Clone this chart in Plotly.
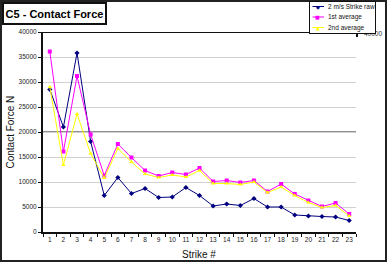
import plotly.graph_objects as go

strikes = list(range(1, 24))
raw = [28500, 21000, 35800, 18100, 7300, 10900, 7700, 8700, 6900, 7000, 8900, 7300,
       5200, 5600, 5300, 6700, 5000, 5000, 3400, 3200, 3100, 3000, 2300]
avg1 = [36100, 16100, 31200, 19500, 11300, 17600, 14900, 12300, 11200, 11900, 11500, 12800,
        10100, 10300, 9900, 10300, 8100, 9600, 7600, 6300, 5100, 5800, 3600]
avg2 = [29000, 13400, 23600, 15700, 10800, 16700, 14000, 11600, 10900, 11400, 11000, 12300,
        9700, 9700, 9500, 10000, 7900, 9000, 7300, 5900, 4900, 5300, 3200]
y_ticks = list(range(0, 40001, 5000))
series_names = ["2 m/s Strike raw", "1st average", "2nd average"]
series_colors = ["#000080", "#FF00FF", "#FFFF00"]
series_symbols = ["diamond", "square", "triangle-up"]
legend_glyphs = ["\u25C6", "\u25A0", "\u25B2"]

FONT = "Liberation Sans, Arial, sans-serif"
W, H = 389, 263
L, R, T, B = 43, 33, 32, 31
pw, ph = W - L - R, H - T - B


def px(x):
    return (x - L) / pw


def py(y):
    return (H - B - y) / ph


fig = go.Figure()
for vals, name, col, sym in zip([raw, avg1, avg2], series_names, series_colors, series_symbols):
    fig.add_trace(go.Scatter(x=strikes, y=vals, name=name, mode="lines+markers",
                             line=dict(color=col, width=1),
                             marker=dict(symbol=sym, size=4, color=col),
                             showlegend=False))

shapes = [
    dict(type="rect", xref="paper", yref="paper", x0=px(1), x1=px(386), y0=py(261), y1=py(1),
         line=dict(color="#222", width=2), layer="below"),
    dict(type="line", xref="paper", yref="y", x0=0, x1=1, y0=20000, y1=20000,
         line=dict(color="#909090", width=2), layer="below"),
    dict(type="line", xref="paper", yref="y", x0=0, x1=1, y0=40000, y1=40000,
         line=dict(color="#111", width=2), layer="below"),
    dict(type="line", xref="paper", yref="paper", x0=px(357), x1=px(357), y0=py(31), y1=py(37),
         line=dict(color="#111", width=2)),
]

annotations = [
    dict(text="40000", xref="paper", yref="paper", x=px(362), y=py(33),
         xanchor="left", yanchor="middle", showarrow=False,
         font=dict(family=FONT, size=6.5, color="#333")),
    # legend box (covers part of the label above, as in the reference)
    dict(text="", xref="paper", yref="paper", x=px(309), y=py(0.5), xanchor="left", yanchor="top",
         width=65, height=31, showarrow=False, bgcolor="white", bordercolor="#111",
         borderwidth=1, borderpad=0),
    # axis titles
    dict(text="Contact Force N", xref="paper", yref="paper", x=px(9.5), y=py(132),
         textangle=-90, showarrow=False, xanchor="center", yanchor="middle",
         font=dict(family=FONT, size=10, color="#111")),
    dict(text="Strike #", xref="paper", yref="paper", x=px(199), y=py(254),
         showarrow=False, xanchor="center", yanchor="middle",
         font=dict(family=FONT, size=10, color="#111")),
]

for i, (name, col, g) in enumerate(zip(series_names, series_colors, legend_glyphs)):
    cy = 6.5 + i * 10.5
    annotations.append(dict(text="", xref="paper", yref="paper", x=px(324), y=py(cy),
                            axref="pixel", ayref="pixel", ax=-13, ay=0, showarrow=True,
                            arrowhead=0, arrowwidth=1, arrowcolor=col, standoff=0,
                            startstandoff=0))
    annotations.append(dict(text=g, xref="paper", yref="paper", x=px(317.5), y=py(cy),
                            xanchor="center", yanchor="middle", showarrow=False,
                            font=dict(family="DejaVu Sans", size=5, color=col)))
    annotations.append(dict(text=name, xref="paper", yref="paper", x=px(325.5), y=py(cy),
                            xanchor="left", yanchor="middle", showarrow=False,
                            font=dict(family=FONT, size=6.5, color="#111")))

# title box
annotations.append(dict(text="<b>C5 - Contact Force</b>", xref="paper", yref="paper",
                        x=px(2), y=py(2), xanchor="left", yanchor="top", showarrow=False,
                        width=101, height=19, align="center", valign="middle",
                        bgcolor="white", bordercolor="#111", borderwidth=2, borderpad=0,
                        font=dict(family=FONT, size=11, color="black")))

fig.update_layout(
    width=W, height=H,
    margin=dict(l=L, r=R, t=T, b=B),
    paper_bgcolor="white", plot_bgcolor="white",
    font=dict(family=FONT, size=7, color="#222"),
    showlegend=False,
    shapes=shapes,
    annotations=annotations,
    xaxis=dict(range=[0.5, 23.5], tickvals=strikes, ticktext=[str(s) for s in strikes],
               ticks="", showgrid=False, zeroline=False, automargin=False,
               showline=True, linecolor="#111", linewidth=2,
               tickfont=dict(size=6.5, color="#222"),
               minor=dict(ticks="outside", tick0=0.5, dtick=1, ticklen=3, tickcolor="#111",
                          showgrid=False)),
    yaxis=dict(range=[0, 40000], tickvals=y_ticks, ticktext=[str(v) for v in y_ticks],
               ticks="outside", ticklen=3, tickcolor="#111", automargin=False,
               showgrid=True, gridcolor="#D0D0D0", gridwidth=1, zeroline=False,
               showline=True, linecolor="#111", linewidth=2,
               tickfont=dict(size=6.5, color="#222")),
)

fig.write_html("out.html")
